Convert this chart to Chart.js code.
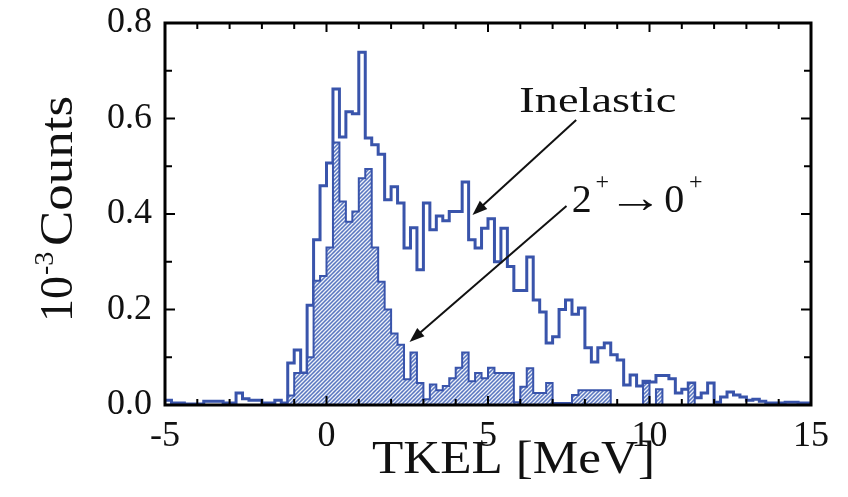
<!DOCTYPE html>
<html><head><meta charset="utf-8">
<script src="https://cdn.jsdelivr.net/npm/chart.js@4/dist/chart.umd.min.js"></script>
<style>html,body{margin:0;padding:0;background:#fff;}</style>
</head><body>
<canvas id="c" width="848" height="497"></canvas>
<script>
// Histogram binning (MeV)
const binStart = -5;
const binWidth = 0.2;
// Inelastic counts (10^-3), bins from -5 to 15 MeV
const inelastic = [
 0.010,0.004,0.004,0.002,0.002,0.002,0.008,0.008,0.008,0.004,
 0.004,0.025,0.013,0.010,0.010,0.004,0.004,0.010,0.004,0.088,
 0.115,0.067,0.209,0.346,0.459,0.507,0.662,0.561,0.614,0.610,
 0.739,0.559,0.545,0.525,0.430,0.457,0.423,0.329,0.371,0.283,
 0.423,0.367,0.396,0.386,0.405,0.405,0.467,0.346,0.329,0.370,
 0.390,0.300,0.370,0.290,0.240,0.240,0.310,0.220,0.195,0.130,
 0.143,0.200,0.220,0.190,0.203,0.120,0.090,0.120,0.130,0.105,
 0.094,0.042,0.063,0.040,0.050,0.048,0.062,0.062,0.055,0.025,
 0.033,0.046,0.015,0.025,0.046,0.006,0.017,0.027,0.021,0.017,
 0.010,0.012,0.008,0.004,0.004,0.004,0.006,0.006,0.004,0.004
];
// 2+ -> 0+ gated counts (10^-3)
const transition = [
 0,0,0,0,0,0,0,0,0,0,
 0,0,0,0,0,0,0,0,0,0.020,
 0.067,0.067,0.100,0.260,0.270,0.330,0.550,0.426,0.384,0.405,
 0.475,0.494,0.330,0.258,0.200,0.150,0.126,0.054,0.110,0.046,
 0.012,0.043,0.031,0.040,0.056,0.078,0.110,0.050,0.067,0.056,
 0.078,0.067,0.067,0.067,0.006,0.038,0.077,0.025,0.025,0.046,
 0.004,0.004,0.004,0.021,0.031,0.031,0.031,0.031,0.031,0,
 0,0,0,0,0.046,0,0.033,0,0,0,
 0,0.046,0,0,0,0,0,0,0,0,
 0,0,0,0,0,0,0,0,0,0
];
const xTickStep = 5;
const yTickStep = 0.2;
const xTitle = 'TKEL [MeV]';
const labelInelastic = 'Inelastic';

const edges = inelastic.map((_, i) => +(binStart + i * binWidth).toFixed(2));
function toPoints(vals) {
  const pts = vals.map((v, i) => ({x: edges[i], y: v}));
  pts.push({x: +(binStart + vals.length * binWidth).toFixed(2), y: vals[vals.length - 1]});
  return pts;
}
function hatch() {
  const n = 4;
  const c = document.createElement('canvas'); c.width = n; c.height = n;
  const g = c.getContext('2d');
  g.fillStyle = '#5a77c0'; g.fillRect(0, 0, n, n);
  g.strokeStyle = 'rgba(255,255,255,0.9)'; g.lineWidth = 1.25;
  g.beginPath();
  g.moveTo(0, n); g.lineTo(n, 0);
  g.moveTo(-1, 1); g.lineTo(1, -1);
  g.moveTo(n - 1, n + 1); g.lineTo(n + 1, n - 1);
  g.stroke();
  return g.createPattern(c, 'repeat');
}
const FONT = '"Liberation Serif", "Times New Roman", serif';
function txt(ctx, s, x, y, size, w) {
  ctx.font = size + 'px ' + FONT;
  const m = ctx.measureText(s).width;
  ctx.save(); ctx.translate(x, y);
  if (w) ctx.scale(w / m, 1);
  ctx.textAlign = 'left'; ctx.textBaseline = 'alphabetic';
  ctx.fillText(s, 0, 0);
  ctx.restore();
}
function arrow(ctx, x1, y1, x2, y2) {
  const a = Math.atan2(y2 - y1, x2 - x1), L = 15, W = 5.5;
  ctx.save(); ctx.strokeStyle = '#111'; ctx.fillStyle = '#111'; ctx.lineWidth = 2;
  ctx.beginPath(); ctx.moveTo(x1, y1);
  ctx.lineTo(x2 - L * 0.8 * Math.cos(a), y2 - L * 0.8 * Math.sin(a)); ctx.stroke();
  ctx.beginPath(); ctx.moveTo(x2, y2);
  ctx.lineTo(x2 - L * Math.cos(a) + W * Math.sin(a), y2 - L * Math.sin(a) - W * Math.cos(a));
  ctx.lineTo(x2 - L * Math.cos(a) - W * Math.sin(a), y2 - L * Math.sin(a) + W * Math.cos(a));
  ctx.closePath(); ctx.fill(); ctx.restore();
}

const decor = {
  id: 'decor',
  afterDraw(chart) {
    const ctx = chart.ctx, a = chart.chartArea, xs = chart.scales.x, ys = chart.scales.y;
    ctx.save();
    ctx.strokeStyle = '#000'; ctx.lineWidth = 2;
    // inward ticks on all four sides
    for (let v = xs.min; v <= xs.max + 1e-9; v += 1) {
      const px = xs.getPixelForValue(v), major = Math.abs(v % 5) < 1e-9, L = major ? 9 : 6;
      ctx.beginPath(); ctx.moveTo(px, a.bottom); ctx.lineTo(px, a.bottom - L);
      ctx.moveTo(px, a.top); ctx.lineTo(px, a.top + L); ctx.stroke();
    }
    for (let i = 0; i <= 8; i++) {
      const py = ys.getPixelForValue(i * 0.1), L = i % 2 === 0 ? 10 : 7;
      ctx.beginPath(); ctx.moveTo(a.left, py); ctx.lineTo(a.left + L, py);
      ctx.moveTo(a.right, py); ctx.lineTo(a.right - L, py); ctx.stroke();
    }
    ctx.lineWidth = 3;
    ctx.strokeRect(a.left, a.top, a.right - a.left, a.bottom - a.top);
    ctx.fillStyle = '#111';
    // annotations (data coordinates)
    const X = v => xs.getPixelForValue(v), Y = v => ys.getPixelForValue(v);
    txt(ctx, labelInelastic, X(5.97), Y(0.614), 36, 157);
    arrow(ctx, X(7.73), Y(0.597), X(4.52), Y(0.398));
    txt(ctx, '2', X(7.59), Y(0.404), 40);
    txt(ctx, '+', X(8.33), Y(0.452), 24);
    txt(ctx, '\u2192', X(8.70), Y(0.404), 44, 56);
    txt(ctx, '0', X(10.46), Y(0.404), 40);
    txt(ctx, '+', X(11.22), Y(0.452), 24);
    arrow(ctx, X(7.43), Y(0.417), X(2.57), Y(0.132));
    // axis titles
    txt(ctx, xTitle, a.left + 207, a.bottom + 68, 46, 283);
    ctx.save();
    ctx.translate(72, a.top + 299);
    ctx.rotate(-Math.PI / 2);
    txt(ctx, '10', 0, 0, 46);
    txt(ctx, '-3', 47, -19, 28);
    txt(ctx, 'Counts', 76, 0, 46, 150);
    ctx.restore();
    ctx.restore();
  }
};

new Chart(document.getElementById('c'), {
  type: 'line',
  data: {
    datasets: [
      { label: '2+ -> 0+', data: toPoints(transition), stepped: true, fill: 'origin',
        backgroundColor: hatch(), borderColor: '#3954ab', borderWidth: 2,
        pointRadius: 0, tension: 0, borderJoinStyle: 'miter' },
      { label: 'Inelastic', data: toPoints(inelastic), stepped: true, fill: false,
        borderColor: '#3954ab', borderWidth: 3, pointRadius: 0, tension: 0,
        borderJoinStyle: 'miter' }
    ]
  },
  options: {
    responsive: false, animation: false, devicePixelRatio: 1,
    layout: { padding: { top: 23, right: 37, left: 0, bottom: 0 } },
    plugins: { legend: { display: false }, tooltip: { enabled: false } },
    scales: {
      x: { type: 'linear', min: -5, max: 15,
        ticks: { stepSize: xTickStep, color: '#111', padding: 10, font: { family: FONT, size: 36 },
          callback: v => String(v) },
        grid: { display: false, drawTicks: false }, border: { display: false },
        afterFit(s) { s.height = 92; s.paddingLeft = 0; s.paddingRight = 0; } },
      y: { min: 0, max: 0.8,
        ticks: { stepSize: yTickStep, color: '#111', padding: 13, font: { family: FONT, size: 36 },
          callback: v => v.toFixed(1) },
        grid: { display: false, drawTicks: false }, border: { display: false },
        afterFit(s) { s.width = 165; s.paddingTop = 0; s.paddingBottom = 0; } }
    }
  },
  plugins: [decor]
});
</script>
</body></html>
